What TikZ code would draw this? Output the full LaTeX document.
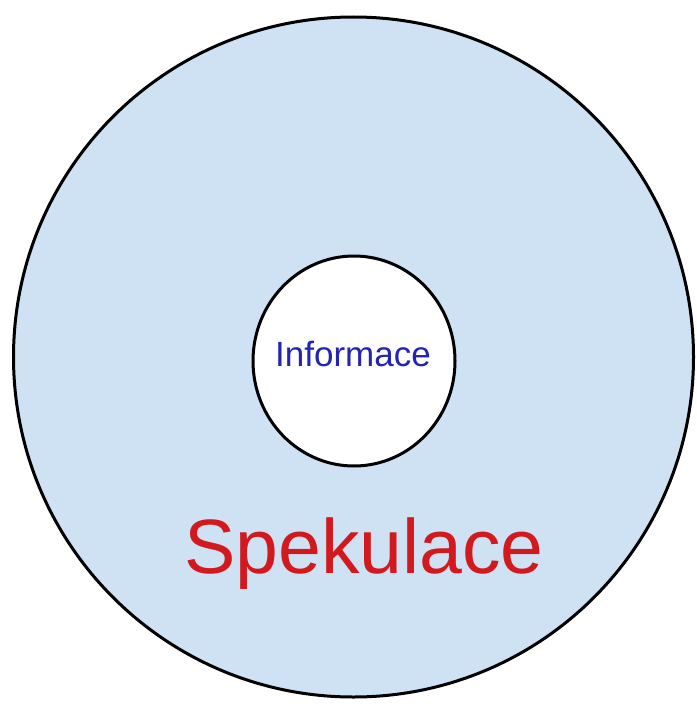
\documentclass[tikz,border=0pt]{standalone}
\usepackage{fontspec}
\setmainfont{Liberation Sans}
\usetikzlibrary{shapes.geometric}
\definecolor{svetlemodra}{RGB}{207,226,243}
\definecolor{modra}{RGB}{35,35,180}
\definecolor{cervena}{RGB}{210,25,30}
\tikzset{
    %Define style for the outer disc
    vnejsi/.style={
           circle,
           draw=black, line width=3pt,
           fill=svetlemodra,
           minimum size=680pt,
           inner sep=0pt},
    %Define style for the inner disc
    vnitrni/.style={
           ellipse,
           draw=black, line width=3pt,
           fill=white,
           minimum width=202pt,
           minimum height=210pt,
           inner sep=0pt},
    % Define style for labels
    popis/.style={
           anchor=base,
           inner sep=0pt}
}
\begin{document}
\begin{tikzpicture}[x=1pt, y=-1pt]
\useasboundingbox (0,0) rectangle (696,709);

\node[vnejsi] (spekulace) at (353.5,357) {};
\node[vnitrni] (informace) at (354,361) {};

% texts
\node[popis, text=modra, font=\fontsize{35}{40}\selectfont] (infotext) at (353,366) {Informace};
\node[popis, text=cervena, font=\fontsize{77}{90}\selectfont] (spektext) at (364,573) {Spekulace};

\end{tikzpicture}
\end{document}
